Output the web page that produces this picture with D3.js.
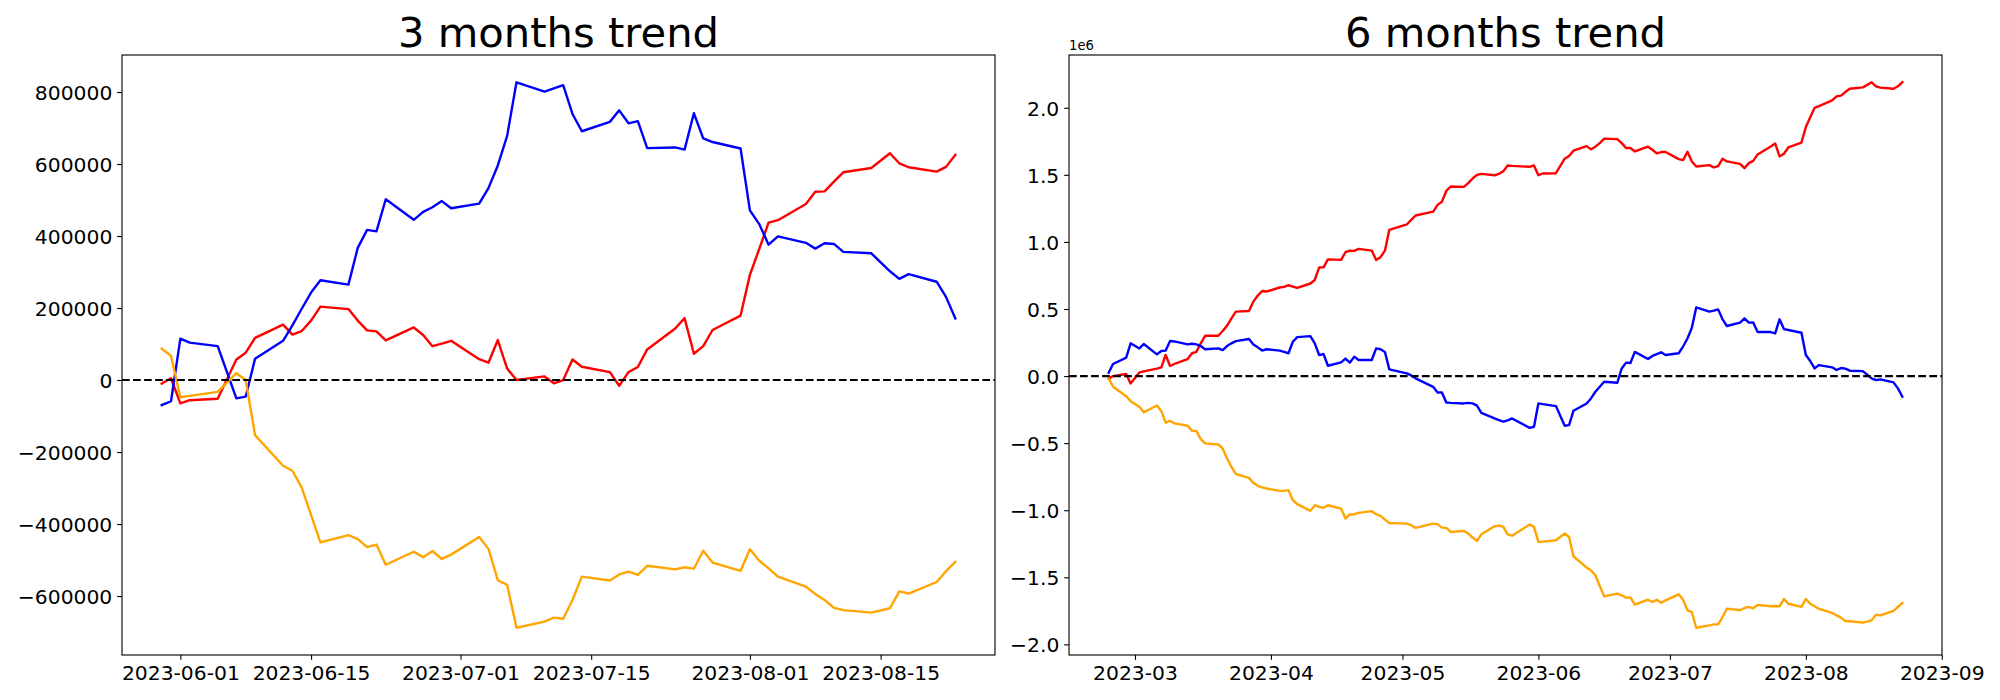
<!doctype html>
<html lang="en">
<head>
    <meta charset="utf-8"/>
    <title>Trend</title>
    <style>
        body { margin: 0; background: #fff; }
        svg { display: block; }
    </style>
</head>
<body>
    <svg id="chart" width="2000" height="700"></svg>
    <script src="https://d3js.org/d3.v7.min.js"></script>
    <script>
        // ---- 3 months data (trading days) ----
        const dates3 = ["2023-05-30","2023-05-31","2023-06-01","2023-06-02","2023-06-05","2023-06-07","2023-06-08","2023-06-09",
            "2023-06-12","2023-06-13","2023-06-14","2023-06-15","2023-06-16","2023-06-19","2023-06-20","2023-06-21","2023-06-22","2023-06-23",
            "2023-06-26","2023-06-27","2023-06-28","2023-06-29","2023-06-30","2023-07-03","2023-07-04","2023-07-05","2023-07-06","2023-07-07",
            "2023-07-10","2023-07-11","2023-07-12","2023-07-13","2023-07-14","2023-07-17","2023-07-18","2023-07-19","2023-07-20","2023-07-21",
            "2023-07-24","2023-07-25","2023-07-26","2023-07-27","2023-07-28","2023-07-31","2023-08-01","2023-08-02","2023-08-03","2023-08-04",
            "2023-08-07","2023-08-08","2023-08-09","2023-08-10","2023-08-11","2023-08-14","2023-08-16","2023-08-17","2023-08-18",
            "2023-08-21","2023-08-22","2023-08-23"];
        const red3 = [-10000,5000,-65000,-56000,-52000,57000,76000,117000,154000,126000,136000,165000,204000,197000,165000,138000,135000,110000,
            146000,125000,94000,101000,109000,58000,48000,111000,32000,0,10000,-9000,0,57000,37000,22000,-16000,22000,36000,85000,
            143000,172000,73000,94000,139000,179000,292000,364000,437000,444000,489000,523000,524000,551000,577000,589000,630000,602000,591000,
            579000,592000,625000];
        const blue3 = [-70000,-59000,115000,104000,94000,-51000,-46000,59000,109000,152000,198000,243000,277000,265000,367000,417000,413000,502000,
            445000,467000,480000,497000,477000,490000,533000,596000,678000,827000,801000,810000,819000,739000,691000,717000,749000,713000,719000,644000,
            646000,640000,741000,671000,661000,643000,471000,433000,376000,399000,381000,365000,380000,378000,356000,352000,302000,281000,294000,
            273000,231000,171000];
        const orange3 = [87000,67000,-48000,-44000,-33000,19000,0,-153000,-238000,-252000,-299000,-375000,-451000,-431000,-442000,-464000,-457000,-513000,
            -477000,-492000,-475000,-497000,-485000,-436000,-469000,-556000,-569000,-688000,-671000,-660000,-663000,-611000,-546000,-557000,-540000,-532000,-541000,-516000,
            -526000,-520000,-524000,-474000,-507000,-530000,-470000,-502000,-523000,-546000,-574000,-594000,-611000,-633000,-639000,-646000,-634000,-587000,-593000,
            -561000,-531000,-505000];
        const xTicks3 = ["2023-06-01","2023-06-15","2023-07-01","2023-07-15","2023-08-01","2023-08-15"];
        const yTicks3 = [-600000,-400000,-200000,0,200000,400000,600000,800000];

        // ---- 6 months data (values in 1e6) ----
        const dates6 = ["2023-02-23","2023-02-24","2023-02-27","2023-02-28",
            "2023-03-02","2023-03-03","2023-03-06","2023-03-07","2023-03-08","2023-03-09","2023-03-10","2023-03-13","2023-03-14","2023-03-15","2023-03-16","2023-03-17",
            "2023-03-20","2023-03-21","2023-03-22","2023-03-23","2023-03-24","2023-03-27","2023-03-28","2023-03-29","2023-03-30","2023-03-31",
            "2023-04-03","2023-04-04","2023-04-05","2023-04-06","2023-04-07","2023-04-10","2023-04-11","2023-04-12","2023-04-13","2023-04-14",
            "2023-04-17","2023-04-18","2023-04-19","2023-04-20","2023-04-21","2023-04-24","2023-04-25","2023-04-26","2023-04-27","2023-04-28",
            "2023-05-02","2023-05-03","2023-05-04","2023-05-08","2023-05-09","2023-05-10","2023-05-11","2023-05-12","2023-05-15","2023-05-16","2023-05-17","2023-05-18","2023-05-19",
            "2023-05-22","2023-05-23","2023-05-24","2023-05-25","2023-05-26","2023-05-30","2023-05-31",
            "2023-06-01","2023-06-02","2023-06-05","2023-06-07","2023-06-08","2023-06-09","2023-06-12","2023-06-13","2023-06-14","2023-06-15","2023-06-16",
            "2023-06-19","2023-06-20","2023-06-21","2023-06-22","2023-06-23","2023-06-26","2023-06-27","2023-06-28","2023-06-29","2023-06-30",
            "2023-07-03","2023-07-04","2023-07-05","2023-07-06","2023-07-07","2023-07-10","2023-07-11","2023-07-12","2023-07-13","2023-07-14",
            "2023-07-17","2023-07-18","2023-07-19","2023-07-20","2023-07-21","2023-07-24","2023-07-25","2023-07-26","2023-07-27","2023-07-28","2023-07-31",
            "2023-08-01","2023-08-02","2023-08-03","2023-08-04","2023-08-07","2023-08-08","2023-08-09","2023-08-10","2023-08-11","2023-08-14",
            "2023-08-16","2023-08-17","2023-08-18","2023-08-21","2023-08-22","2023-08-23"];
        const red6 = [-0.02,0.0,0.015,-0.055,
            0.027,0.035,0.055,0.065,0.157,0.075,0.09,0.127,0.17,0.18,0.244,0.30,0.30,0.336,0.376,0.43,0.48,0.485,0.555,0.60,0.634,0.63,
            0.66,0.665,0.677,0.667,0.657,0.69,0.716,0.81,0.81,0.87,0.866,0.923,0.935,0.933,0.948,0.935,0.866,0.886,0.935,1.09,
            1.13,1.164,1.197,1.226,1.276,1.30,1.38,1.413,1.41,1.438,1.473,1.50,1.507,1.497,1.507,1.527,1.57,1.567,1.56,1.57,
            1.497,1.51,1.512,1.62,1.64,1.68,1.714,1.69,1.71,1.736,1.77,1.766,1.736,1.70,1.70,1.674,1.71,1.687,1.66,1.67,1.67,
            1.617,1.61,1.672,1.60,1.562,1.572,1.555,1.565,1.62,1.60,1.582,1.55,1.587,1.604,1.652,1.711,1.734,1.637,1.657,1.704,1.741,
            1.856,1.93,2.0,2.012,2.055,2.085,2.09,2.117,2.142,2.152,2.19,2.16,2.15,2.142,2.16,2.19];
        const blue6 = [0.025,0.09,0.137,0.244,
            0.206,0.239,0.162,0.187,0.19,0.261,0.258,0.236,0.241,0.236,0.224,0.2,0.206,0.194,0.224,0.244,0.26,0.276,0.236,0.214,0.19,0.2,
            0.19,0.18,0.17,0.256,0.29,0.298,0.244,0.157,0.164,0.077,0.102,0.13,0.1,0.144,0.12,0.12,0.206,0.2,0.18,0.05,
            0.02,0.005,-0.017,-0.08,-0.122,-0.122,-0.197,-0.2,-0.204,-0.2,-0.204,-0.22,-0.274,-0.316,-0.328,-0.34,-0.33,-0.316,-0.386,-0.378,
            -0.204,-0.209,-0.224,-0.37,-0.366,-0.259,-0.204,-0.167,-0.117,-0.08,-0.042,-0.05,0.057,0.1,0.097,0.18,0.127,0.15,0.164,0.177,0.157,
            0.17,0.22,0.28,0.36,0.512,0.48,0.488,0.497,0.423,0.373,0.398,0.43,0.398,0.4,0.328,0.328,0.318,0.423,0.35,0.343,0.323,
            0.157,0.112,0.057,0.082,0.065,0.045,0.06,0.055,0.04,0.037,-0.017,-0.03,-0.025,-0.047,-0.092,-0.154];
        const orange6 = [-0.017,-0.08,-0.15,-0.187,
            -0.229,-0.27,-0.219,-0.26,-0.348,-0.333,-0.353,-0.37,-0.408,-0.41,-0.47,-0.502,-0.51,-0.54,-0.614,-0.677,-0.73,-0.759,-0.796,-0.818,-0.83,-0.838,
            -0.856,-0.856,-0.85,-0.925,-0.955,-1.005,-0.963,-0.975,-0.982,-0.963,-0.988,-1.062,-1.032,-1.03,-1.02,-1.007,-1.03,-1.042,-1.07,-1.095,
            -1.1,-1.112,-1.132,-1.1,-1.104,-1.13,-1.132,-1.162,-1.154,-1.174,-1.204,-1.229,-1.179,-1.12,-1.114,-1.124,-1.18,-1.19,-1.107,-1.124,
            -1.236,-1.234,-1.224,-1.174,-1.2,-1.343,-1.428,-1.448,-1.485,-1.565,-1.642,-1.622,-1.634,-1.652,-1.65,-1.704,-1.667,-1.684,-1.667,-1.69,-1.672,
            -1.627,-1.667,-1.746,-1.759,-1.876,-1.858,-1.851,-1.851,-1.796,-1.734,-1.746,-1.729,-1.721,-1.731,-1.706,-1.716,-1.714,-1.716,-1.662,-1.697,-1.721,
            -1.662,-1.697,-1.716,-1.736,-1.766,-1.784,-1.801,-1.826,-1.828,-1.838,-1.821,-1.779,-1.784,-1.751,-1.721,-1.692];
        const xTicks6 = ["2023-03-01","2023-04-01","2023-05-01","2023-06-01","2023-07-01","2023-08-01","2023-09-01"];
        const yTicks6 = [-2.0,-1.5,-1.0,-0.5,0.0,0.5,1.0,1.5,2.0];

        const parse = d3.utcParse("%Y-%m-%d");
        const font = "DejaVu Sans";
        const tickFont = 20.3;
        const svg = d3.select("#chart");

        function minusFmt(f) {
            return v => f(v).replace("-", "\u2212");
        }

        function drawPanel(opt) {
            const {left, right, top, bottom} = opt;
            const dates = opt.dates.map(parse);

            // matplotlib-like 5% margins
            const t0 = +dates[0], t1 = +dates[dates.length - 1];
            const dt = (t1 - t0) * 0.05;
            const x = d3.scaleUtc().domain([new Date(t0 - dt), new Date(t1 + dt)]).range([left, right]);

            const all = opt.series.flatMap(s => s.values);
            const [lo, hi] = d3.extent(all);
            const dy = (hi - lo) * 0.05;
            const y = d3.scaleLinear().domain([lo - dy, hi + dy]).range([bottom, top]);

            const g = svg.append("g");
            const clipId = "clip" + opt.id;
            g.append("clipPath").attr("id", clipId)
                .append("rect").attr("x", left).attr("y", top).attr("width", right - left).attr("height", bottom - top);

            const line = d3.line().x((d, i) => x(dates[i])).y(d => y(d));
            const plot = g.append("g").attr("clip-path", `url(#${clipId})`);
            opt.series.forEach(s => {
                plot.append("path")
                    .attr("d", line(s.values))
                    .attr("fill", "none")
                    .attr("stroke", s.color)
                    .attr("stroke-width", 2.4)
                    .attr("stroke-linejoin", "round")
                    .attr("stroke-linecap", "square");
            });
            // zero line
            plot.append("line")
                .attr("x1", left).attr("x2", right)
                .attr("y1", y(0)).attr("y2", y(0))
                .attr("stroke", "black")
                .attr("stroke-width", 2.2)
                .attr("stroke-dasharray", "7.7,3.33");

            // axes
            const xAxis = g.append("g").attr("transform", `translate(0,${bottom})`)
                .call(d3.axisBottom(x).tickValues(opt.xTicks.map(parse)).tickFormat(opt.xFormat).tickSizeOuter(0).tickSize(4.86).tickPadding(4.86));
            const yAxis = g.append("g").attr("transform", `translate(${left},0)`)
                .call(d3.axisLeft(y).tickValues(opt.yTicks).tickFormat(opt.yFormat).tickSizeOuter(0).tickSize(4.86).tickPadding(4.86));
            [xAxis, yAxis].forEach(a => {
                a.select(".domain").remove();
                a.selectAll(".tick line").attr("stroke", "black").attr("stroke-width", 1.11);
                a.selectAll(".tick text").attr("fill", "black")
                    .attr("font-family", font).attr("font-size", tickFont);
            });
            xAxis.selectAll(".tick text").attr("dy", "0.76em");
            yAxis.selectAll(".tick text").attr("dy", "0.36em");

            g.append("rect")
                .attr("x", left).attr("y", top)
                .attr("width", right - left).attr("height", bottom - top)
                .attr("fill", "none").attr("stroke", "black").attr("stroke-width", 1.11);

            g.append("text")
                .attr("x", (left + right) / 2).attr("y", top - 8.3)
                .attr("text-anchor", "middle")
                .attr("font-family", font).attr("font-size", 41.7)
                .text(opt.title);

            if (opt.offset) {
                g.append("text")
                    .attr("x", left).attr("y", top - 5)
                    .attr("font-family", font).attr("font-size", 13.2)
                    .text(opt.offset);
            }
        }

        drawPanel({
            id: 3, left: 122, right: 995, top: 55, bottom: 655,
            title: "3 months trend",
            dates: dates3,
            series: [
                {values: red3, color: "red"},
                {values: blue3, color: "blue"},
                {values: orange3, color: "orange"}
            ],
            xTicks: xTicks3, xFormat: d3.utcFormat("%Y-%m-%d"),
            yTicks: yTicks3, yFormat: minusFmt(d3.format("d"))
        });

        drawPanel({
            id: 6, left: 1069, right: 1942, top: 55, bottom: 655,
            title: "6 months trend",
            dates: dates6,
            series: [
                {values: red6, color: "red"},
                {values: blue6, color: "blue"},
                {values: orange6, color: "orange"}
            ],
            xTicks: xTicks6, xFormat: d3.utcFormat("%Y-%m"),
            yTicks: yTicks6, yFormat: minusFmt(d3.format(".1f")),
            offset: "1e6"
        });
    </script>
</body>
</html>
